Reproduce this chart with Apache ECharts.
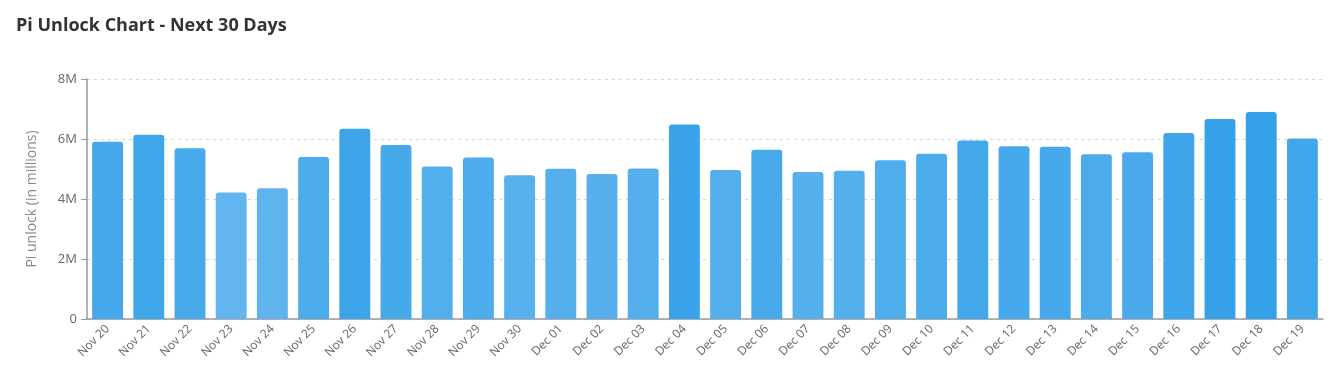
<!DOCTYPE html>
<html>
<head>
<meta charset="utf-8">
<script src="https://cdn.jsdelivr.net/npm/echarts@6/dist/echarts.min.js"></script>
<style>html,body{margin:0;padding:0;background:#fff}#c{width:1341px;height:377px}</style>
</head>
<body>
<div id="c"></div>
<script>
const categories = ["Nov 20","Nov 21","Nov 22","Nov 23","Nov 24","Nov 25","Nov 26","Nov 27","Nov 28","Nov 29","Nov 30","Dec 01","Dec 02","Dec 03","Dec 04","Dec 05","Dec 06","Dec 07","Dec 08","Dec 09","Dec 10","Dec 11","Dec 12","Dec 13","Dec 14","Dec 15","Dec 16","Dec 17","Dec 18","Dec 19"];
const unlockValues = [5910000,6140000,5690000,4220000,4360000,5400000,6340000,5800000,5080000,5380000,4790000,5010000,4830000,5020000,6480000,4970000,5640000,4900000,4940000,5290000,5510000,5950000,5760000,5740000,5490000,5560000,6200000,6670000,6900000,6020000];
const yTicks = [0, 2000000, 4000000, 6000000, 8000000];

const chart = echarts.init(document.getElementById('c'));
chart.setOption({
  animation: false,
  title: {
    text: 'Pi Unlock Chart - Next 30 Days',
    left: 11, top: 12,
    textStyle: {fontFamily: 'Open Sans', fontWeight: 'bold', fontSize: 18, color: '#333'}
  },
  grid: {left: 87, right: 18, top: 79, bottom: 58},
  visualMap: {
    show: false, type: 'continuous', dimension: 1,
    min: 4200000, max: 6900000,
    inRange: {color: ['#62b5ee', '#33a0e8']}
  },
  xAxis: {
    type: 'category', data: categories,
    axisLine: {lineStyle: {color: '#999', width: 1.5}},
    axisTick: {alignWithLabel: true, length: 5, lineStyle: {color: '#999'}},
    axisLabel: {rotate: 45, color: '#666', fontFamily: 'Open Sans', fontSize: 12, margin: 8, interval: 0}
  },
  yAxis: {
    type: 'value', min: yTicks[0], max: yTicks[yTicks.length - 1], interval: 2000000,
    name: 'Pi unlock (in millions)', nameLocation: 'middle', nameGap: 48,
    nameTextStyle: {color: '#888', fontFamily: 'Open Sans', fontSize: 14},
    axisLine: {show: true, lineStyle: {color: '#999', width: 1.5}},
    axisTick: {show: true, length: 6, lineStyle: {color: '#999'}},
    axisLabel: {color: '#666', fontFamily: 'Open Sans', fontSize: 13, margin: 10,
      formatter: v => v === 0 ? '0' : (v / 1000000) + 'M'},
    splitLine: {lineStyle: {color: '#d5d5d5', type: [3, 4]}}
  },
  series: [{
    type: 'bar', data: unlockValues,
    barCategoryGap: '25%',
    itemStyle: {borderRadius: [3, 3, 0, 0]}
  }]
});
</script>
</body>
</html>
